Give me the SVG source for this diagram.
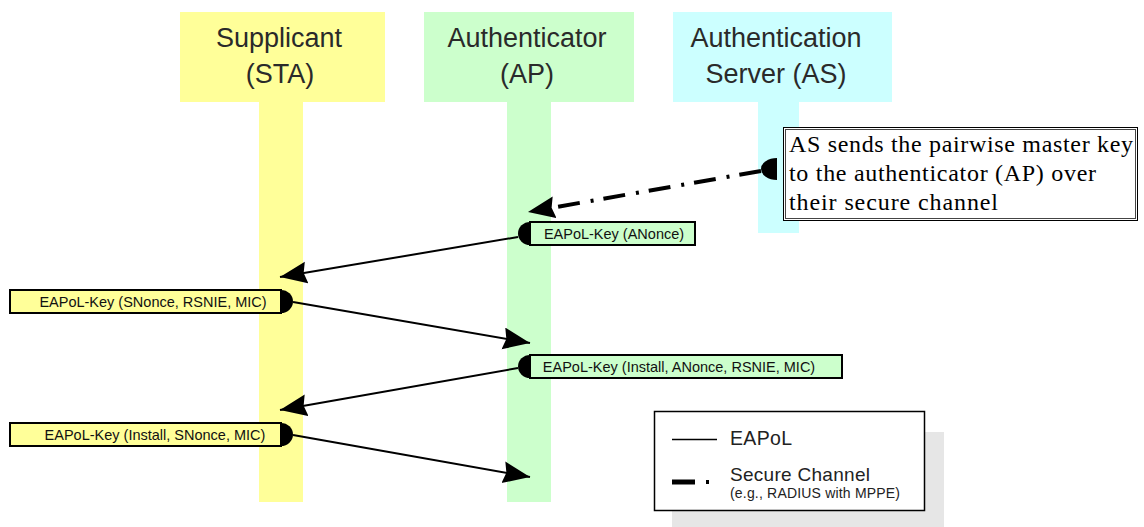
<svg xmlns="http://www.w3.org/2000/svg" width="1144" height="527" viewBox="0 0 1144 527">
<style>
.hdr{font-family:"Liberation Sans",Arial,sans-serif;font-size:27px;fill:#2a2a2a;text-anchor:middle}
.lbl{font-family:"Liberation Sans",Arial,sans-serif;font-size:14.5px;fill:#111;text-anchor:middle}
.box{stroke:#000;stroke-width:2}
.ylw{fill:#ffff99}
.grn{fill:#ccffcc}
.cyn{fill:#ccffff}
.note{font-family:"Liberation Serif","Times New Roman",serif;font-size:24px;fill:#000}
.leg{font-family:"Liberation Sans",Arial,sans-serif;fill:#222}
.msg{fill:none;stroke:#000;stroke-width:2}
.sec{fill:none;stroke:#000;stroke-width:4;stroke-dasharray:22 10 3 11}
.blob{fill:#000}
</style>
<defs>
<marker id="arrow" markerUnits="userSpaceOnUse" markerWidth="29" markerHeight="24" refX="27" refY="11" orient="auto">
<path d="M0,0 L27,11 L0,22 L3,11 Z" fill="#000"/>
</marker>
<marker id="arrowD" markerUnits="userSpaceOnUse" markerWidth="29" markerHeight="24" refX="15" refY="11" orient="auto">
<path d="M0,0 L27,11 L0,22 L3,11 Z" fill="#000"/>
</marker>
</defs>

<g id="supplicant">
<rect class="ylw" x="180" y="12" width="205" height="90"/>
<rect class="ylw" x="259" y="101" width="44" height="401"/>
<text class="hdr" x="279" y="47">Supplicant</text>
<text class="hdr" x="280" y="83">(STA)</text>
</g>

<g id="authenticator">
<rect class="grn" x="424" y="12" width="210" height="90"/>
<rect class="grn" x="507" y="101" width="44" height="401"/>
<text class="hdr" x="527" y="47">Authenticator</text>
<text class="hdr" x="527" y="83">(AP)</text>
</g>

<g id="auth-server">
<rect class="cyn" x="673" y="12" width="219" height="90"/>
<rect class="cyn" x="758" y="101" width="41" height="132"/>
<text class="hdr" x="776" y="47">Authentication</text>
<text class="hdr" x="776" y="83">Server (AS)</text>
</g>

<g id="as-note">
<rect x="783.5" y="127.5" width="354" height="93" fill="#fff" stroke="#000" stroke-width="1"/>
<rect x="785.5" y="129.5" width="350" height="89" fill="none" stroke="#444" stroke-width="1"/>
<text class="note" x="789" y="152" textLength="344" lengthAdjust="spacing">AS sends the pairwise master key</text>
<text class="note" x="789" y="181" textLength="307" lengthAdjust="spacing">to the authenticator (AP) over</text>
<text class="note" x="789" y="210" textLength="209" lengthAdjust="spacing">their secure channel</text>
<path class="blob" d="M777,158 A16,11 0 0 0 777,180 Z"/>
</g>

<g id="msg-anonce">
<rect class="box grn" x="530" y="222" width="165" height="23"/>
<path class="blob" d="M530,222 A12,11.5 0 0 0 530,245 Z"/>
<text class="lbl" x="614" y="238.5">EAPoL-Key (ANonce)</text>
</g>

<g id="msg-snonce">
<rect class="box ylw" x="10" y="290" width="271" height="23"/>
<path class="blob" d="M281,290 A12,11.5 0 0 1 281,313 Z"/>
<text class="lbl" x="153" y="306.5">EAPoL-Key (SNonce, RSNIE, MIC)</text>
</g>

<g id="msg-install-anonce">
<rect class="box grn" x="530" y="355" width="312" height="23"/>
<path class="blob" d="M530,355 A12,11.5 0 0 0 530,378 Z"/>
<text class="lbl" x="679" y="371.5">EAPoL-Key (Install, ANonce, RSNIE, MIC)</text>
</g>

<g id="msg-install-snonce">
<rect class="box ylw" x="10" y="423" width="271" height="23"/>
<path class="blob" d="M281,423 A12,11.5 0 0 1 281,446 Z"/>
<text class="lbl" x="155" y="439.5">EAPoL-Key (Install, SNonce, MIC)</text>
</g>

<g id="connectors">
<path class="sec" d="M761,171 L539.8,209.9" marker-end="url(#arrowD)"/>
<path class="msg" d="M518,237 L280,277" marker-end="url(#arrow)"/>
<path class="msg" d="M293,302 L530,343" marker-end="url(#arrow)"/>
<path class="msg" d="M518,368 L280,410" marker-end="url(#arrow)"/>
<path class="msg" d="M293,435 L530,477" marker-end="url(#arrow)"/>
</g>

<g id="legend">
<rect x="672" y="432" width="272" height="95" fill="#e6e6e6"/>
<rect x="654.5" y="411.5" width="270" height="99" fill="#fff" stroke="#000" stroke-width="1.5"/>
<line x1="672" y1="439.5" x2="717" y2="439.5" stroke="#000" stroke-width="1.5"/>
<text class="leg" x="730" y="445" font-size="19.5" textLength="62" lengthAdjust="spacing">EAPoL</text>
<line x1="672" y1="482" x2="695" y2="482" stroke="#000" stroke-width="5"/>
<rect x="706" y="480" width="3" height="4" fill="#000"/>
<text class="leg" x="730" y="481" font-size="19" textLength="140" lengthAdjust="spacing">Secure Channel</text>
<text class="leg" x="730" y="498" font-size="14" textLength="170" lengthAdjust="spacing">(e.g., RADIUS with MPPE)</text>
</g>
</svg>
